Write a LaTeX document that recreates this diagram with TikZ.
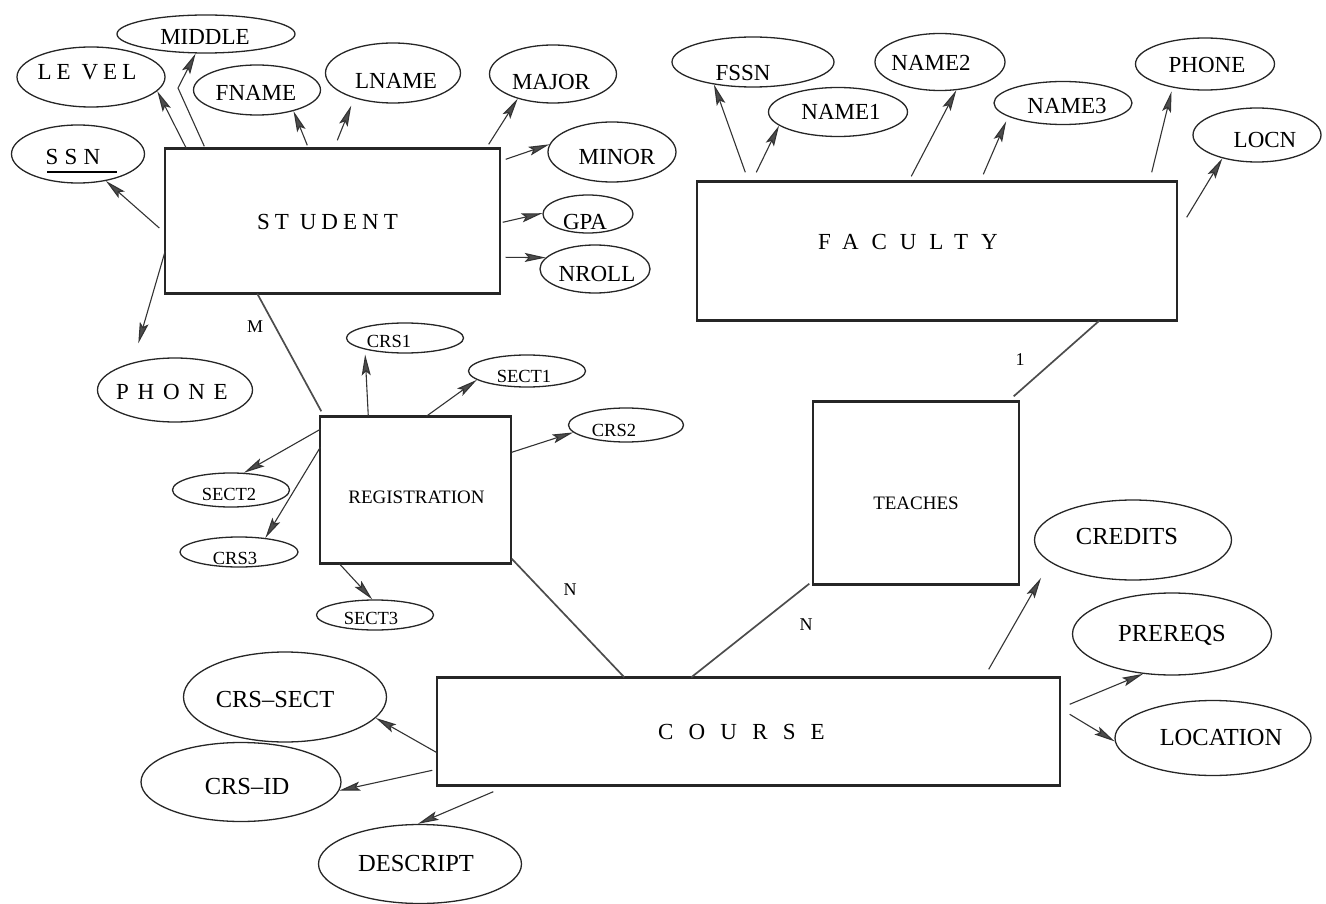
\documentclass[tikz,border=0pt]{standalone}
\usepackage{fontspec}
\setmainfont{Liberation Serif}
\usetikzlibrary{shapes.geometric,arrows.meta}
\begin{document}
\begin{tikzpicture}[x=1pt,y=-1pt,
  ent/.style={draw=black!85, line width=1.4pt, inner sep=0pt},
  attr/.style={ellipse, draw=black!85, line width=1.3pt, inner sep=0pt},
  big/.style={font=\fontsize{23}{25}\selectfont},
  mid/.style={font=\fontsize{19}{21}\selectfont},
  sml/.style={font=\fontsize{18.5}{20}\selectfont},
  crs/.style={font=\fontsize{24.5}{27}\selectfont},
  lbl/.style={font=\fontsize{18}{20}\selectfont},
  arr/.style={draw=black!80, line width=1.1pt, -{Stealth[length=21pt,width=9pt,inset=4pt,fill=black!70,color=black!80]}},
  rel/.style={draw=black!70, line width=1.7pt},
  edge/.style={draw=black!85, line width=2.6pt}
]
\useasboundingbox (0,0) rectangle (1326,904);

% entities
\node[ent, minimum width=335pt, minimum height=144pt,
  label={[big, shift={(-5,1)}]center:{\addfontfeatures{LetterSpace=22}ST UDENT}}] (student) at (332.5,221) {};
\node[ent, minimum width=480pt, minimum height=138pt,
  label={[big, shift={(-29,-9)}]center:{\addfontfeatures{LetterSpace=56}FACULTY}}] (faculty) at (937,251) {};
\node[ent, minimum width=191pt, minimum height=146pt,
  label={[mid, shift={(1,7)}]center:REGISTRATION}] (reg) at (415.5,490) {};
\node[ent, minimum width=206pt, minimum height=182pt,
  label={[mid, shift={(0,10)}]center:TEACHES}] (teaches) at (916,493) {};
\node[ent, minimum width=623pt, minimum height=107pt,
  label={[big, shift={(-7,0)}]center:{\addfontfeatures{LetterSpace=66}COURSE}}] (course) at (748.5,731.5) {};

% heavier top and bottom edges of the boxes
\foreach \e in {student,faculty,reg,course}{
  \draw[edge] (\e.north west) -- (\e.north east);
  \draw[edge] (\e.south west) -- (\e.south east);
}
\draw[line width=2pt, draw=black!85] (teaches.north west) -- (teaches.north east);
\draw[line width=2pt, draw=black!85] (teaches.south west) -- (teaches.south east);

% student attributes
\node[attr, minimum width=178pt, minimum height=38pt, label={[big, shift={(-1,3)}]center:MIDDLE}] (middle) at (206,34) {};
\node[attr, minimum width=148pt, minimum height=60pt, label={[big, shift={(-4,-5)}]center:{\addfontfeatures{LetterSpace=22}LE VEL}}] (level) at (91,77) {};
\node[attr, minimum width=127pt, minimum height=50pt, label={[big, shift={(-1,3)}]center:FNAME}] (fname) at (257,90) {};
\node[attr, minimum width=135pt, minimum height=60pt, label={[big, shift={(3,8)}]center:LNAME}] (lname) at (393,73) {};
\node[attr, minimum width=133pt, minimum height=58pt, label={[big, shift={(-5,3)}]center:{\addfontfeatures{LetterSpace=27}SSN}}] (ssn) at (78,154) {};
\node[attr, minimum width=127pt, minimum height=58pt, label={[big, shift={(-2,8)}]center:MAJOR}] (major) at (553,74) {};
\node[attr, minimum width=128pt, minimum height=60pt, label={[big, shift={(5,5)}]center:MINOR}] (minor) at (612,152) {};
\node[attr, minimum width=90pt, minimum height=38pt, label={[big, shift={(-3,8)}]center:GPA}] (gpa) at (588,214) {};
\node[attr, minimum width=110pt, minimum height=48pt, label={[big, shift={(2,5)}]center:NROLL}] (nroll) at (595,269) {};
\node[attr, minimum width=155pt, minimum height=64pt, label={[big, shift={(-3,2)}]center:{\addfontfeatures{LetterSpace=38}PHONE}}] (sphone) at (175,390) {};

% faculty attributes
\node[attr, minimum width=162pt, minimum height=50pt, label={[big, shift={(-10,11)}]center:FSSN}] (fssn) at (753,62) {};
\node[attr, minimum width=139pt, minimum height=49pt, label={[big, shift={(3,0)}]center:NAME1}] (name1) at (838,112) {};
\node[attr, minimum width=130pt, minimum height=57pt, label={[big, shift={(-9,1)}]center:NAME2}] (name2) at (940,62) {};
\node[attr, minimum width=138pt, minimum height=43pt, label={[big, shift={(4,3)}]center:NAME3}] (name3) at (1063,103) {};
\node[attr, minimum width=139pt, minimum height=52pt, label={[big, shift={(2,1)}]center:PHONE}] (fphone) at (1205,64) {};
\node[attr, minimum width=128pt, minimum height=54pt, label={[big, shift={(8,5)}]center:LOCN}] (locn) at (1257,135) {};

% registration attributes
\node[attr, minimum width=117pt, minimum height=30pt, label={[sml, shift={(-16,3)}]center:CRS1}] (crs1) at (405,338) {};
\node[attr, minimum width=117pt, minimum height=32pt, label={[sml, shift={(-3,5)}]center:SECT1}] (sect1) at (527,371) {};
\node[attr, minimum width=115pt, minimum height=34pt, label={[sml, shift={(-12,5)}]center:CRS2}] (crs2) at (626,425) {};
\node[attr, minimum width=117pt, minimum height=34pt, label={[sml, shift={(-2,4)}]center:SECT2}] (sect2) at (231,490) {};
\node[attr, minimum width=118pt, minimum height=30pt, label={[sml, shift={(-4,6)}]center:CRS3}] (crs3) at (239,552) {};
\node[attr, minimum width=117pt, minimum height=30pt, label={[sml, shift={(-4,3)}]center:SECT3}] (sect3) at (375,615) {};

% course attributes
\node[attr, minimum width=203pt, minimum height=90pt, label={[crs, shift={(-10,3)}]center:CRS--SECT}] (crssect) at (285,697) {};
\node[attr, minimum width=200pt, minimum height=79pt, label={[crs, shift={(6,5)}]center:CRS--ID}] (crsid) at (241,782) {};
\node[attr, minimum width=203pt, minimum height=79pt, label={[crs, shift={(-4,0)}]center:DESCRIPT}] (descript) at (420,864) {};
\node[attr, minimum width=197pt, minimum height=80pt, label={[crs, shift={(-6,-3)}]center:CREDITS}] (credits) at (1133,540) {};
\node[attr, minimum width=199pt, minimum height=82pt, label={[crs, shift={(0,1)}]center:PREREQS}] (prereqs) at (1172,634) {};
\node[attr, minimum width=196pt, minimum height=75pt, label={[crs, shift={(8,0)}]center:LOCATION}] (location) at (1213,738) {};

% SSN underline
\draw[line width=1.4pt] ([shift={(-31,18)}]ssn.center) -- ([shift={(39,18)}]ssn.center);

% cardinality labels
\node[lbl] (mlab) at (255,327) {M};
\node[lbl] (nlab1) at (570,590) {N};
\node[lbl] (onelab) at (1020,360) {1};
\node[lbl] (nlab2) at (806,625) {N};

% student arrows
\draw[arr] ([shift={(-5,7)}]student.west) -- (ssn.-44);
\draw[arr] ([shift={(22,0)}]student.north west) -- (level.-12);
\draw[arr] ([shift={(40,-2)}]student.north west) -- ([shift={(-28,54)}]middle.center) -- (middle.-118);
\draw[arr] ([shift={(143,-3)}]student.north west) -- (fname.-30);
\draw[arr, shorten >=8pt] ([shift={(173,-8)}]student.north west) -- (lname.-147);
\draw[arr] ([shift={(-12,-4)}]student.north east) -- (major.-145);
\draw[arr] ([shift={(5,11)}]student.north east) -- (minor.173);
\draw[arr] ([shift={(2,74)}]student.north east) -- (gpa.179);
\draw[arr] ([shift={(5,109)}]student.north east) -- (nroll.167);
\draw[arr, shorten >=20pt] ([shift={(1,-43)}]student.south west) -- (sphone.147);

% relationships
\draw[rel] ([shift={(93,0)}]student.south west) -- ([shift={(2,-5)}]reg.north west);
\draw[rel] ([shift={(0,-5)}]reg.south east) -- ([shift={(188,0)}]course.north west);
\draw[rel] ([shift={(403,0)}]faculty.south west) -- ([shift={(-6,-5)}]teaches.north east);
\draw[rel] ([shift={(-3,-1)}]teaches.south west) -- ([shift={(255,0)}]course.north west);

% registration arrows
\draw[arr, shorten >=5pt] ([shift={(49,0)}]reg.north west) -- (crs1.-164);
\draw[arr] ([shift={(107,0)}]reg.north west) -- (sect1.-170);
\draw[arr] ([shift={(0,36)}]reg.north east) -- (crs2.-172);
\draw[arr] ([shift={(1,13)}]reg.north west) -- (sect2.53);
\draw[arr] ([shift={(1,31)}]reg.north west) -- (crs3.28);
\draw[arr] ([shift={(20,0)}]reg.south west) -- (sect3.100);

% faculty arrows
\draw[arr] ([shift={(49,-9)}]faculty.north west) -- (fssn.-150);
\draw[arr] ([shift={(60,-9)}]faculty.north west) -- (name1.-167);
\draw[arr] ([shift={(215,-5)}]faculty.north west) -- (name2.-60);
\draw[arr, shorten >=5pt] ([shift={(287,-7)}]faculty.north west) -- (name3.-166);
\draw[arr, shorten >=4pt] ([shift={(-26,-9)}]faculty.north east) -- (fphone.-144);
\draw[arr] ([shift={(9,36)}]faculty.north east) -- (locn.-146);

% course arrows
\draw[arr] ([shift={(0,75)}]course.north west) -- (crssect.-13);
\draw[arr] ([shift={(-4,93)}]course.north west) -- (crsid.-5);
\draw[arr] ([shift={(57,6)}]course.south west) -- (descript.93);
\draw[arr] ([shift={(9,27)}]course.north east) -- (prereqs.-126);
\draw[arr] ([shift={(9,37)}]course.north east) -- (location.-178);
\draw[arr, shorten >=18pt] ([shift={(-72,-8)}]course.north east) -- (credits.-165);
\end{tikzpicture}
\end{document}
